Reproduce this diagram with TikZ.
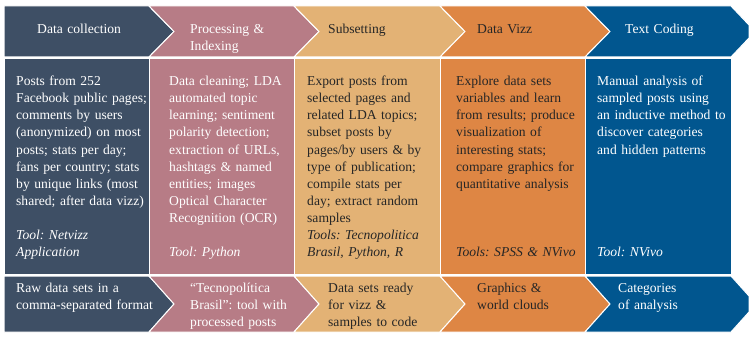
\documentclass[tikz,border=0pt]{standalone}
\usepackage{fontspec}
\setmainfont{Liberation Serif}
\frenchspacing
\definecolor{collect}{HTML}{3E4F65}
\definecolor{process}{HTML}{B77C86}
\definecolor{subset}{HTML}{E3B275}
\definecolor{vizz}{HTML}{DE8644}
\definecolor{coding}{HTML}{01568F}
\definecolor{ink}{HTML}{262626}

\begin{document}
\begin{tikzpicture}[x=1pt,y=1pt,
  stage/.style={draw=white,line width=1pt},
  txt/.style={anchor=base west,align=left,text width=140pt,font=\fontsize{13.6}{17.1}\selectfont}]
\tikzstyle{every node}+=[inner sep=0pt]
\useasboundingbox (0,0) rectangle (749,-350);
% top chevrons
\draw [stage,fill=collect] (4,-6) -- (149,-6) -- (174,-31.5) -- (149,-57) -- (4,-57) -- cycle;
\draw [stage,fill=process] (149,-6) -- (294,-6) -- (319,-31.5) -- (294,-57) -- (149,-57) -- (174,-31.5) -- cycle;
\draw [stage,fill=subset] (294,-6) -- (440,-6) -- (465,-31.5) -- (440,-57) -- (294,-57) -- (319,-31.5) -- cycle;
\draw [stage,fill=vizz] (440,-6) -- (585,-6) -- (610,-31.5) -- (585,-57) -- (440,-57) -- (465,-31.5) -- cycle;
\draw [stage,fill=coding] (585,-6) -- (731,-6) -- (749,-25) -- (749,-38) -- (731,-57) -- (585,-57) -- (610,-31.5) -- cycle;
\node [txt,text=white] (head1) at (37,-33.5) {Data collection};
\node [txt,text=white] (head2) at (190,-33.5) {Processing \&\\Indexing};
\node [txt,text=ink] (head3) at (328,-33.5) {Subsetting};
\node [txt,text=ink] (head4) at (477,-33.5) {Data Vizz};
\node [txt,text=white] (head5) at (625,-33.5) {Text Coding};
% middle boxes
\draw [stage,fill=collect] (4,-59) rectangle (149,-274);
\draw [stage,fill=process] (149,-59) rectangle (294,-274);
\draw [stage,fill=subset] (294,-59) rectangle (440,-274);
\draw [stage,fill=vizz] (440,-59) rectangle (585,-274);
\draw [stage,fill=coding] (585,-59) rectangle (731,-274);
\node [txt,text=white] (body1) at (16,-85.7) {Posts from 252\\Facebook public pages;\\comments by users\\(anonymized) on most\\posts; stats per day;\\fans per country; stats\\by unique links (most\\shared; after data vizz)};
\node [txt,text=white,font=\fontsize{13.6}{17.1}\selectfont\itshape] (tool1) at (16,-239.6) {Tool: Netvizz\\Application};
\node [txt,text=white] (body2) at (169,-85.7) {Data cleaning; LDA\\automated topic\\learning; sentiment\\polarity detection;\\extraction of URLs,\\hashtags \& named\\entities; images\\Optical Character\\Recognition (OCR)};
\node [txt,text=white,font=\fontsize{13.6}{17.1}\selectfont\itshape] (tool2) at (169,-256.7) {Tool: Python};
\node [txt,text=ink] (body3) at (307,-85.7) {Export posts from\\selected pages and\\related LDA topics;\\subset posts by\\pages/by users \& by\\type of publication;\\compile stats per\\day; extract random\\samples};
\node [txt,text=ink,font=\fontsize{13.6}{17.1}\selectfont\itshape] (tool3) at (307,-239.6) {Tools: Tecnopolitica\\Brasil, Python, R};
\node [txt,text=ink] (body4) at (456,-85.7) {Explore data sets\\variables and learn\\from results; produce\\visualization of\\interesting stats;\\compare graphics for\\quantitative analysis};
\node [txt,text=ink,font=\fontsize{13.6}{17.1}\selectfont\itshape] (tool4) at (456,-256.7) {Tools: SPSS \& NVivo};
\node [txt,text=white] (body5) at (597,-85.7) {Manual analysis of\\sampled posts using\\an inductive method to\\discover categories\\and hidden patterns};
\node [txt,text=white,font=\fontsize{13.6}{17.1}\selectfont\itshape] (tool5) at (597,-256.7) {Tool: NVivo};
% bottom chevrons
\draw [stage,fill=collect] (4,-276) -- (149,-276) -- (174,-304) -- (149,-332) -- (4,-332) -- cycle;
\draw [stage,fill=process] (149,-276) -- (294,-276) -- (319,-304) -- (294,-332) -- (149,-332) -- (174,-304) -- cycle;
\draw [stage,fill=subset] (294,-276) -- (440,-276) -- (465,-304) -- (440,-332) -- (294,-332) -- (319,-304) -- cycle;
\draw [stage,fill=vizz] (440,-276) -- (585,-276) -- (610,-304) -- (585,-332) -- (440,-332) -- (465,-304) -- cycle;
\draw [stage,fill=coding] (585,-276) -- (731,-276) -- (749,-296) -- (749,-312) -- (731,-332) -- (585,-332) -- (610,-304) -- cycle;
\node [txt,text=white] (out1) at (16,-292.3) {Raw data sets in a\\comma-separated format};
\node [txt,text=white] (out2) at (190,-292.3) {“Tecnopolítica\\Brasil”: tool with\\processed posts};
\node [txt,text=ink] (out3) at (328,-292.3) {Data sets ready\\for vizz \&\\samples to code};
\node [txt,text=ink] (out4) at (477,-292.3) {Graphics \&\\world clouds};
\node [txt,text=white] (out5) at (618,-292.3) {Categories\\of analysis};
\end{tikzpicture}
\end{document}
